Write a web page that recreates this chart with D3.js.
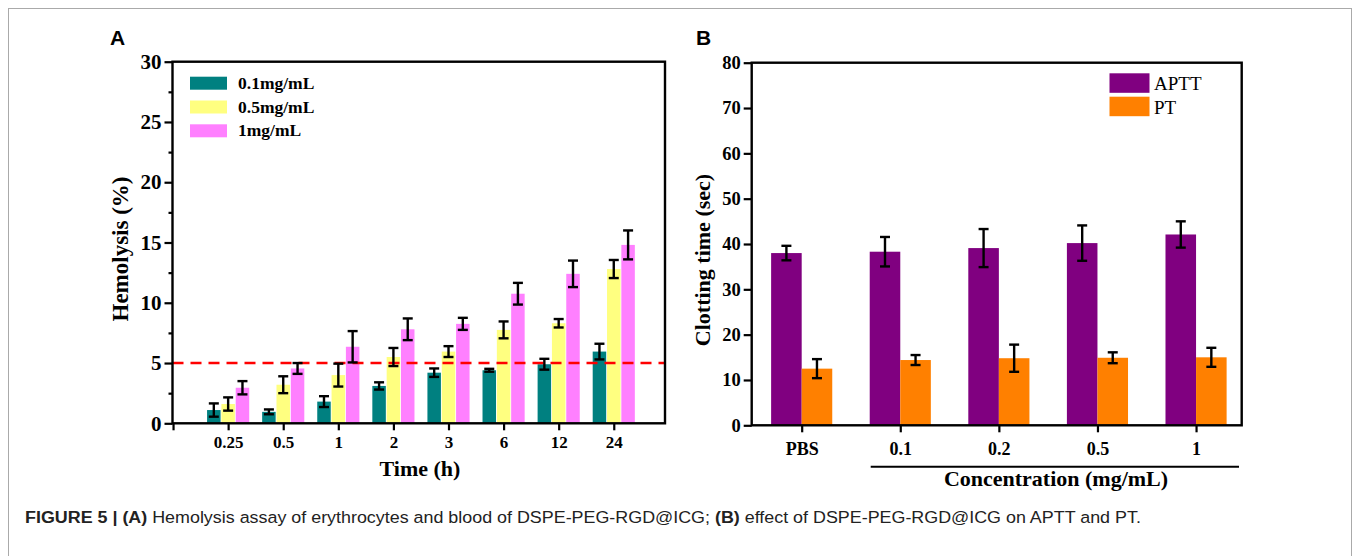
<!DOCTYPE html>
<html lang="en">
<head>
<meta charset="UTF-8">
<title>Figure 5 - Hemolysis and clotting time</title>
<script src="https://d3js.org/d3.v7.min.js"></script>
<style>
  body { margin: 0; background: #fff; }
  text { font-family: "Liberation Serif", "Times New Roman", serif; }
</style>
</head>
<body>
<svg width="1360" height="556"></svg>
<script>
// --- panel A data: hemolysis (%) ---
var timeLabels = ["0.25", "0.5", "1", "2", "3", "6", "12", "24"];
var hemoSeries = ["0.1mg/mL", "0.5mg/mL", "1mg/mL"];
var hemoColors = ["#008080", "#ffff80", "#ff80ff"];
var hemo01 = [1.1, 0.95, 1.8, 3.1, 4.2, 4.4, 4.9, 5.95];
var hemo01Err = [0.55, 0.2, 0.45, 0.3, 0.35, 0.12, 0.45, 0.65];
var hemo05 = [1.6, 3.2, 4.0, 5.5, 5.95, 7.75, 8.3, 12.8];
var hemo05Err = [0.55, 0.7, 0.95, 0.75, 0.45, 0.7, 0.35, 0.75];
var hemo1 = [2.95, 4.55, 6.35, 7.8, 8.25, 10.75, 12.4, 14.8];
var hemo1Err = [0.55, 0.45, 1.3, 0.9, 0.5, 0.9, 1.1, 1.2];
var hemoTicks = [0, 5, 10, 15, 20, 25, 30];
var threshold = 5;

// --- panel B data: clotting time (sec) ---
var concLabels = ["PBS", "0.1", "0.2", "0.5", "1"];
var clotSeries = ["APTT", "PT"];
var clotColors = ["#800080", "#ff8000"];
var aptt = [38.0, 38.3, 39.1, 40.2, 42.1];
var apttErr = [1.6, 3.25, 4.2, 3.9, 2.9];
var pt = [12.5, 14.4, 14.8, 14.9, 15.0];
var ptErr = [2.1, 1.1, 3.0, 1.2, 2.1];
var clotTicks = [0, 10, 20, 30, 40, 50, 60, 70, 80];

var svg = d3.select("svg");

// figure frame
svg.append("rect")
   .attr("x", 8.5).attr("y", 8.5).attr("width", 1343).attr("height", 600)
   .attr("fill", "none").attr("stroke", "#aaa").attr("stroke-width", 1);

function styleAxis(g, fs) {
    g.select(".domain").remove();
    g.selectAll(".tick line").attr("stroke", "#000").attr("stroke-width", 2.2);
    g.selectAll(".tick text")
     .attr("fill", "#000")
     .style("font-size", fs + "px")
     .style("font-weight", "bold")
     .style("font-family", "'Liberation Serif', 'Times New Roman', serif");
}

function errorBars(g, xs, ys, errs, y) {
    var cap = 5;
    xs.forEach(function(cx, i) {
        var top = y(ys[i] + errs[i]), bot = y(ys[i] - errs[i]);
        g.append("line").attr("x1", cx).attr("x2", cx).attr("y1", top).attr("y2", bot);
        g.append("line").attr("x1", cx - cap).attr("x2", cx + cap).attr("y1", top).attr("y2", top);
        g.append("line").attr("x1", cx - cap).attr("x2", cx + cap).attr("y1", bot).attr("y2", bot);
    });
    g.attr("stroke", "#000").attr("stroke-width", 2.4);
}

// ================= Panel A =================
var xA = d3.scaleLinear().domain([-1.01, 7.93]).range([172.5, 665]);
var yA = d3.scaleLinear().domain([0, 30]).range([423.3, 61.7]);
var gA = svg.append("g");

var barWA = xA(0.245) - xA(0);
var offA = xA(0.26) - xA(0);
var hemoVals = [hemo01, hemo05, hemo1];
var hemoErrs = [hemo01Err, hemo05Err, hemo1Err];

hemoVals.forEach(function(vals, s) {
    gA.append("g").selectAll("rect")
      .data(vals)
      .join("rect")
      .attr("x", function(d, i) { return xA(i) + (s - 1) * offA - barWA / 2; })
      .attr("y", function(d) { return yA(d); })
      .attr("width", barWA)
      .attr("height", function(d) { return yA(0) - yA(d); })
      .attr("fill", hemoColors[s]);
});

// threshold line
gA.append("line")
  .attr("x1", xA(-1.01)).attr("x2", xA(7.93))
  .attr("y1", yA(threshold)).attr("y2", yA(threshold))
  .attr("stroke", "#ff0000").attr("stroke-width", 2.6)
  .attr("stroke-dasharray", "11,7");

hemoVals.forEach(function(vals, s) {
    var xs = vals.map(function(d, i) { return xA(i) + (s - 1) * offA; });
    errorBars(gA.append("g"), xs, vals, hemoErrs[s], yA);
});

// axes A
var minorA = d3.range(0, 30.1, 2.5).filter(function(v) { return v % 5 !== 0; });
gA.append("g").attr("transform", "translate(172.5,0)")
  .call(d3.axisLeft(yA).tickValues(minorA).tickSize(4).tickFormat(""))
  .call(styleAxis, 20);
gA.append("g").attr("transform", "translate(172.5,0)")
  .call(d3.axisLeft(yA).tickValues(hemoTicks).tickSize(8).tickPadding(3).tickFormat(d3.format("d")))
  .call(styleAxis, 21);
gA.append("g").attr("transform", "translate(0,423.3)")
  .call(d3.axisBottom(xA).tickValues(d3.range(-1, 8)).tickSize(7).tickPadding(6)
        .tickFormat(function(d) { return d < 0 ? "" : timeLabels[d]; }))
  .call(styleAxis, 17);
gA.append("rect")
  .attr("x", 172.5).attr("y", 61.7).attr("width", 665 - 172.5).attr("height", 423.3 - 61.7)
  .attr("fill", "none").attr("stroke", "#000").attr("stroke-width", 2.4);

// legend A
hemoSeries.forEach(function(name, s) {
    var ly = 76.7 + s * 23.8;
    gA.append("rect").attr("x", 190).attr("y", ly).attr("width", 37).attr("height", 13)
      .attr("fill", hemoColors[s]);
    gA.append("text").attr("x", 238).attr("y", ly + 12)
      .style("font-size", "17.5px").style("font-weight", "bold").text(name);
});

gA.append("text").attr("x", 420).attr("y", 476).attr("text-anchor", "middle")
  .style("font-size", "22px").style("font-weight", "bold").text("Time (h)");
gA.append("text").attr("transform", "translate(128,249) rotate(-90)").attr("text-anchor", "middle")
  .style("font-size", "23px").style("font-weight", "bold").text("Hemolysis (%)");
gA.append("text").attr("x", 110).attr("y", 45)
  .style("font-family", "'Liberation Sans', Arial, sans-serif")
  .style("font-size", "21px").style("font-weight", "bold").text("A");

// ================= Panel B =================
var xB = d3.scaleLinear().domain([-0.507, 4.463]).range([751.7, 1241.7]);
var yB = d3.scaleLinear().domain([0, 80]).range([425.3, 62.7]);
var gB = svg.append("g");
var barWB = xB(0.31) - xB(0);
var clotVals = [aptt, pt];
var clotErrs = [apttErr, ptErr];

clotVals.forEach(function(vals, s) {
    gB.append("g").selectAll("rect")
      .data(vals)
      .join("rect")
      .attr("x", function(d, i) { return s === 0 ? xB(i) - barWB : xB(i); })
      .attr("y", function(d) { return yB(d); })
      .attr("width", barWB)
      .attr("height", function(d) { return yB(0) - yB(d); })
      .attr("fill", clotColors[s]);
});
clotVals.forEach(function(vals, s) {
    var xs = vals.map(function(d, i) { return xB(i) + (s === 0 ? -barWB / 2 : barWB / 2); });
    errorBars(gB.append("g"), xs, vals, clotErrs[s], yB);
});

gB.append("g").attr("transform", "translate(751.7,0)")
  .call(d3.axisLeft(yB).tickValues(clotTicks).tickSize(8).tickPadding(3))
  .call(styleAxis, 18.5);
gB.append("g").attr("transform", "translate(0,425.3)")
  .call(d3.axisBottom(xB).tickValues(d3.range(0, 5)).tickSize(7).tickPadding(10)
        .tickFormat(function(d) { return concLabels[d]; }))
  .call(styleAxis, 18);
gB.append("rect")
  .attr("x", 751.7).attr("y", 62.7).attr("width", 1241.7 - 751.7).attr("height", 425.3 - 62.7)
  .attr("fill", "none").attr("stroke", "#000").attr("stroke-width", 2.4);

clotSeries.forEach(function(name, s) {
    var ly = 73.3 + s * 23.4;
    gB.append("rect").attr("x", 1109.5).attr("y", ly).attr("width", 40).attr("height", 19.5)
      .attr("fill", clotColors[s]);
    gB.append("text").attr("x", 1154).attr("y", ly + 17)
      .style("font-size", "19px").text(name);
});

// concentration bracket line
gB.append("line").attr("x1", xB(0.7)).attr("x2", 1239)
  .attr("y1", 466.7).attr("y2", 466.7).attr("stroke", "#000").attr("stroke-width", 2);
gB.append("text").attr("x", 1056).attr("y", 486).attr("text-anchor", "middle")
  .style("font-size", "22px").style("font-weight", "bold").text("Concentration (mg/mL)");
gB.append("text").attr("transform", "translate(710,260) rotate(-90)").attr("text-anchor", "middle")
  .style("font-size", "22px").style("font-weight", "bold").text("Clotting time (sec)");
gB.append("text").attr("x", 696).attr("y", 45)
  .style("font-family", "'Liberation Sans', Arial, sans-serif")
  .style("font-size", "21px").style("font-weight", "bold").text("B");

// ================= Caption =================
// condensed sans: draw at normal width then squeeze horizontally to the reference width
var capG = svg.append("g");
var cap = capG.append("text").attr("x", 0).attr("y", 0)
  .style("font-family", "'Liberation Sans', Arial, sans-serif")
  .style("font-size", "17px").attr("fill", "#222");
cap.append("tspan").style("font-weight", "bold").text("FIGURE 5 | (A)");
cap.append("tspan").text(" Hemolysis assay of erythrocytes and blood of DSPE-PEG-RGD@ICG; ");
cap.append("tspan").style("font-weight", "bold").text("(B)");
cap.append("tspan").text(" effect of DSPE-PEG-RGD@ICG on APTT and PT.");
var capW = cap.node().getBBox().width;
capG.attr("transform", "translate(25,523) scale(" + (1117 / capW) + ",1)");
</script>
</body>
</html>
